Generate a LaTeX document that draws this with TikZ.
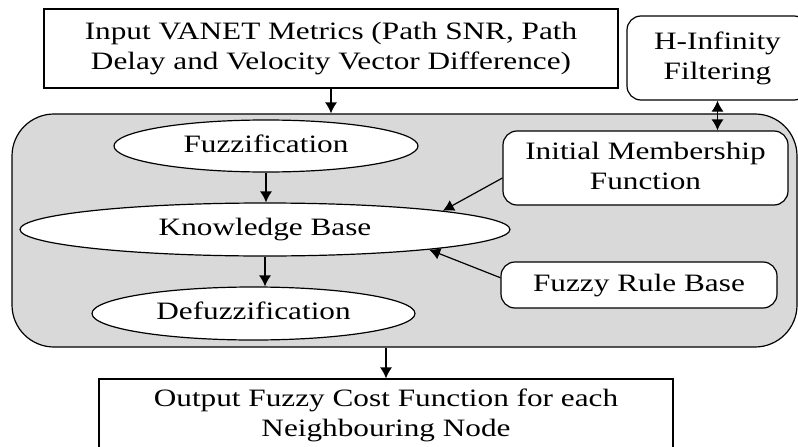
\documentclass[tikz,border=0pt]{standalone}
\usepackage{fontspec}
\setmainfont{Liberation Serif}
\usepackage{graphicx}
\usetikzlibrary{shapes.geometric,arrows.meta,positioning}
% text of the scan is wider than tall
\newcommand{\widetxt}[1]{\scalebox{1.25}[1]{\begin{tabular}{@{}c@{}}#1\end{tabular}}}
\tikzset{
  sqbox/.style={draw, rectangle, inner sep=0pt, line width=1.2pt},
  rbox/.style={draw, rectangle, rounded corners=14pt, fill=white, inner sep=0pt, line width=1.2pt},
  ovalbox/.style={draw, ellipse, fill=white, inner sep=0pt, line width=1.2pt},
}

\begin{document}
\begin{tikzpicture}[x=1pt, y=-1pt, >={Latex[length=11pt,width=12pt]},
  every node/.style={font=\fontsize{25}{30}\selectfont}]
\useasboundingbox (0,0) rectangle (798,447);
\clip (0,0) rectangle (798,447);
% big grey block {{{
\node[draw, rectangle, rounded corners=42pt, fill=black!15, line width=1.2pt,
  minimum width=785pt, minimum height=233pt] (fis) at (404.5,230.5) {};
% }}}
\node[sqbox, minimum width=574pt, minimum height=79pt] (input) at (331,48.5)
  {\widetxt{Input VANET Metrics (Path SNR, Path\\ Delay and Velocity Vector Difference)}};
\node[rbox, minimum width=181pt, minimum height=84pt] (hinf) at (717.5,58)
  {\widetxt{H-Infinity\\ Filtering}};
\node[ovalbox, minimum width=304pt, minimum height=52pt] (fuzz) at (266,146)
  {\widetxt{Fuzzification}};
\node[ovalbox, minimum width=490pt, minimum height=53pt] (kb) at (265,229.5)
  {\widetxt{Knowledge Base}};
\node[ovalbox, minimum width=323pt, minimum height=53pt] (defuzz) at (253.5,313.5)
  {\widetxt{Defuzzification}};
\node[rbox, minimum width=285pt, minimum height=74pt] (imf) at (645.5,168)
  {\widetxt{Initial Membership\\ Function}};
\node[rbox, minimum width=276pt, minimum height=46pt] (frb) at (639,285)
  {\widetxt{Fuzzy Rule Base}};
\node[sqbox, minimum width=574pt, minimum height=72pt] (output) at (386,415)
  {\widetxt{Output Fuzzy Cost Function for each\\ Neighbouring Node}};
% arrows
\draw[->, line width=1.2pt] (input.south) -- (input.south |- fis.north);
\draw[<->, line width=1.2pt] (hinf.south) -- (hinf.south |- imf.north);
\draw[->, line width=1.2pt] (fuzz.south) -- (fuzz.south |- kb.north);
\draw[->, line width=1.2pt] (kb.south) -- (kb.south |- defuzz.north);
\draw[->, line width=1.2pt] (imf.184) -- (kb.6);
\draw[->, line width=1.2pt] (frb.177) -- (kb.353);
\draw[->, line width=1.2pt] (fis.south -| output.north) -- (output.north);
\end{tikzpicture}
\end{document}
